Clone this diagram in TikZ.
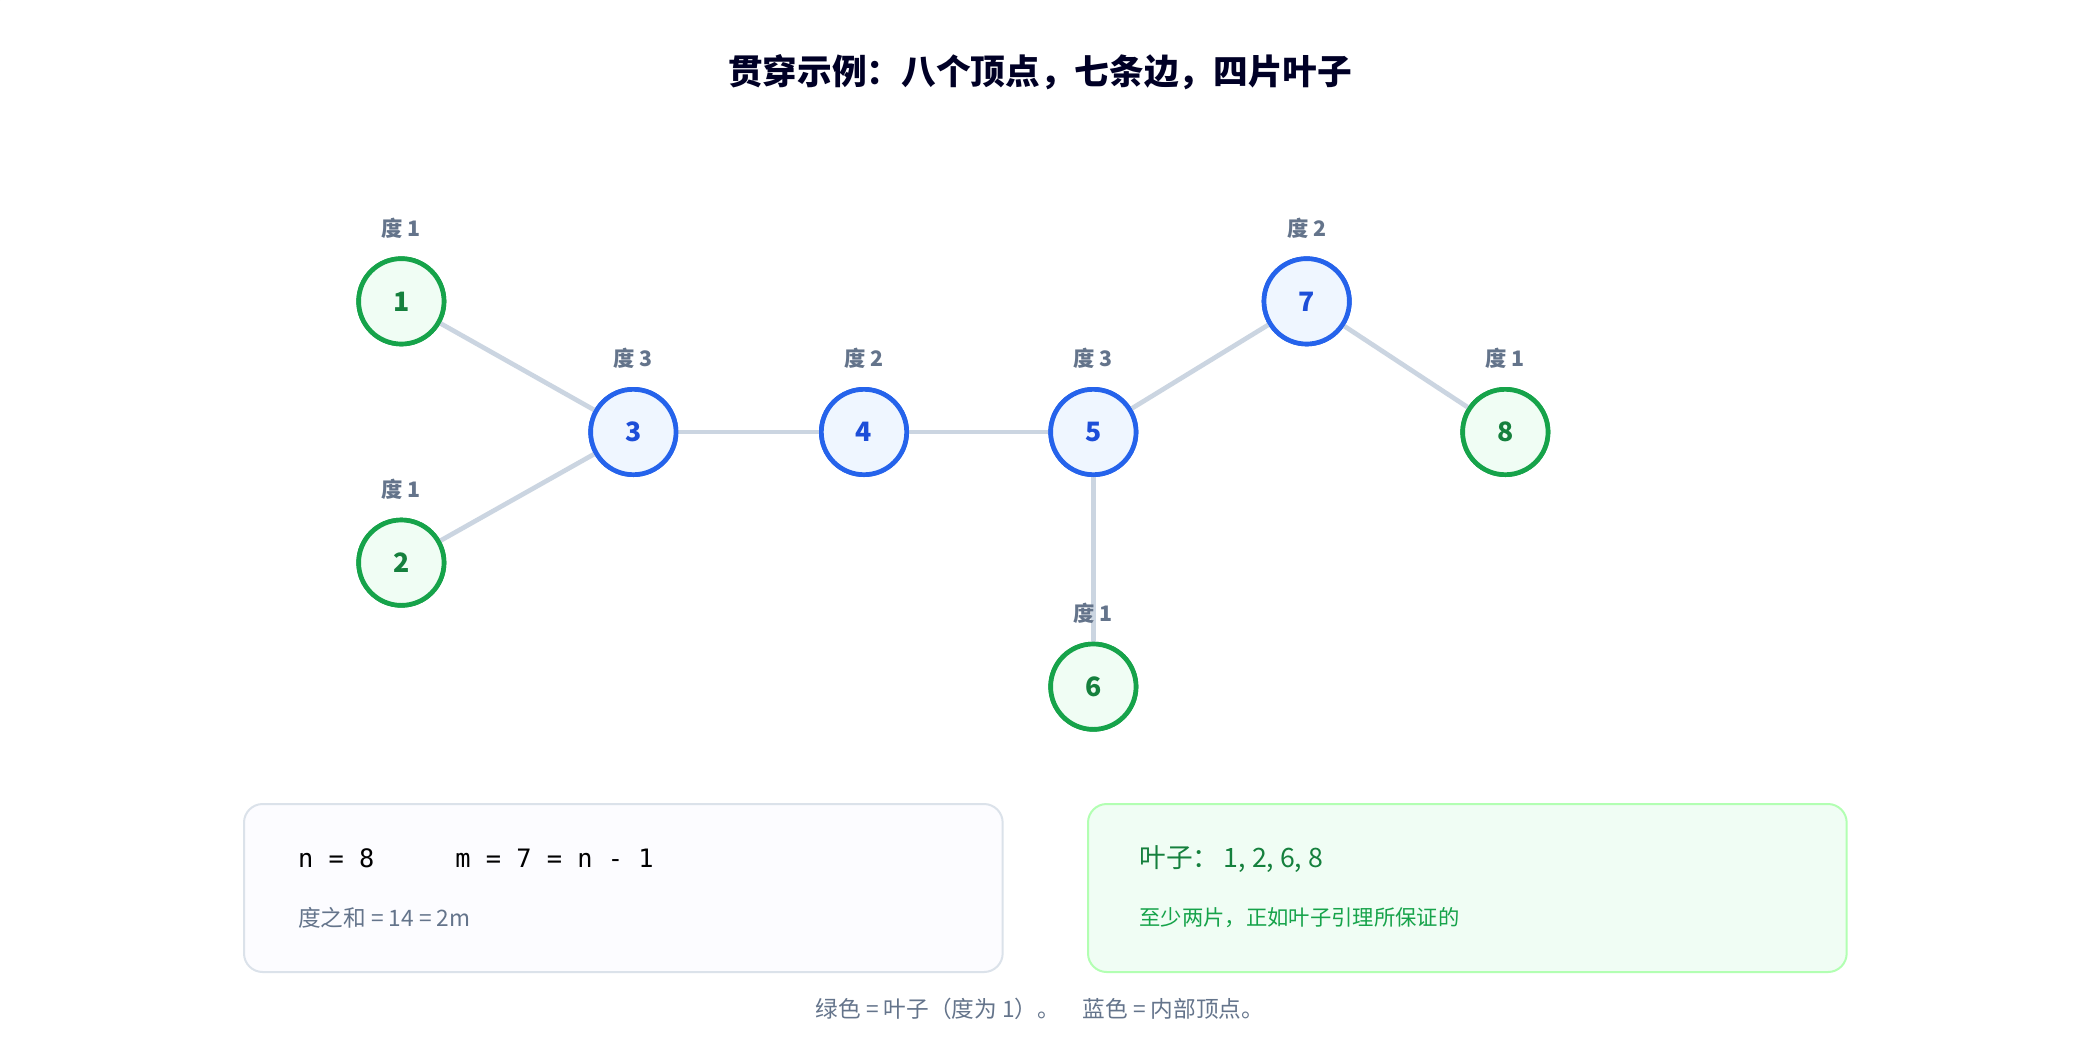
\documentclass[tikz,border=0pt]{standalone}
\usepackage{fontspec}
\setmainfont{Noto Sans CJK SC}
\setmonofont{DejaVu Sans Mono}
\begin{document}
\begin{tikzpicture}[x=1pt,y=-1pt,
  leaf/.style={circle,draw=gl,fill=gf,line width=3.5pt,minimum size=64pt,inner sep=0pt,text=gt,font=\fontsize{20}{24}\selectfont\bfseries},
  inner/.style={circle,draw=bl,fill=bf,line width=3.5pt,minimum size=64pt,inner sep=0pt,text=bt,font=\fontsize{20}{24}\selectfont\bfseries},
  edge/.style={draw=ec,line width=3.5pt},
  deg/.style={text=dg,font=\fontsize{16}{19}\selectfont\bfseries},
  box/.style={rounded corners=14pt,line width=1.5pt}]
\definecolor{gl}{HTML}{16A34A}\definecolor{gf}{HTML}{F0FDF4}\definecolor{gt}{HTML}{15803D}
\definecolor{bl}{HTML}{2563EB}\definecolor{bf}{HTML}{EFF6FF}\definecolor{bt}{HTML}{1D4ED8}
\definecolor{ec}{HTML}{CBD5E1}\definecolor{dg}{HTML}{64748B}
\useasboundingbox (0,0) rectangle (1560,780);
\fill[white] (0,0) rectangle (1560,780);
\node[text=black!85!blue,font=\fontsize{26}{30}\selectfont\bfseries] (title) at (780,54) {贯穿示例：八个顶点，七条边，四片叶子};
\node[leaf] (n1) at (301,226) {1};
\node[leaf] (n2) at (301,422) {2};
\node[inner] (n3) at (475,324) {3};
\node[inner] (n4) at (648,324) {4};
\node[inner] (n5) at (820,324) {5};
\node[leaf] (n6) at (820,515) {6};
\node[inner] (n7) at (980,226) {7};
\node[leaf] (n8) at (1129,324) {8};
\begin{scope}[on background layer/.style={}]
\end{scope}
\foreach \a/\b in {n1/n3,n2/n3,n3/n4,n4/n5,n5/n7,n7/n8,n5/n6}{\draw[edge] (\a) -- (\b);}
\foreach \n in {1,2,...,8}{\node[draw=none] at (n\n) {};}
\node[deg] (d1) at (301,171) {度 1};
\node[deg] (d2) at (301,367) {度 1};
\node[deg] (d3) at (475,269) {度 3};
\node[deg] (d4) at (648,269) {度 2};
\node[deg] (d5) at (820,269) {度 3};
\node[deg] (d6) at (820,460) {度 1};
\node[deg] (d7) at (980,171) {度 2};
\node[deg] (d8) at (1129,269) {度 1};
\draw[box,fill=gray!4!blue!1,draw=ec!70] (183,603) rectangle (752,729);
\fill[white!96!blue!50!gray] (0,0) rectangle (0,0);
\draw[box,fill=gf,draw=green!30!white] (816,603) rectangle (1385,729);
\node[anchor=west,font=\fontsize{19}{22}\ttfamily] (nm) at (220,644) {n = 8\hspace{3.2em}m = 7 = n - 1};
\node[anchor=west,text=dg,font=\fontsize{17}{20}\selectfont] (sum) at (220,688) {度之和 = 14 = 2m};
\node[anchor=west,text=gt,font=\fontsize{20}{24}\selectfont] (lv) at (851,644) {叶子：\,1, 2, 6, 8};
\node[anchor=west,text=gl,font=\fontsize{16}{19}\selectfont] (lm) at (851,688) {至少两片，正如叶子引理所保证的};
\node[text=dg,font=\fontsize{17}{20}\selectfont] (foot) at (780,757) {绿色 = 叶子（度为 1）。\quad 蓝色 = 内部顶点。};
% redraw nodes above edges
\node[leaf] at (301,226) {1};
\node[leaf] at (301,422) {2};
\node[inner] at (475,324) {3};
\node[inner] at (648,324) {4};
\node[inner] at (820,324) {5};
\node[leaf] at (820,515) {6};
\node[inner] at (980,226) {7};
\node[leaf] at (1129,324) {8};
\end{tikzpicture}
\end{document}
